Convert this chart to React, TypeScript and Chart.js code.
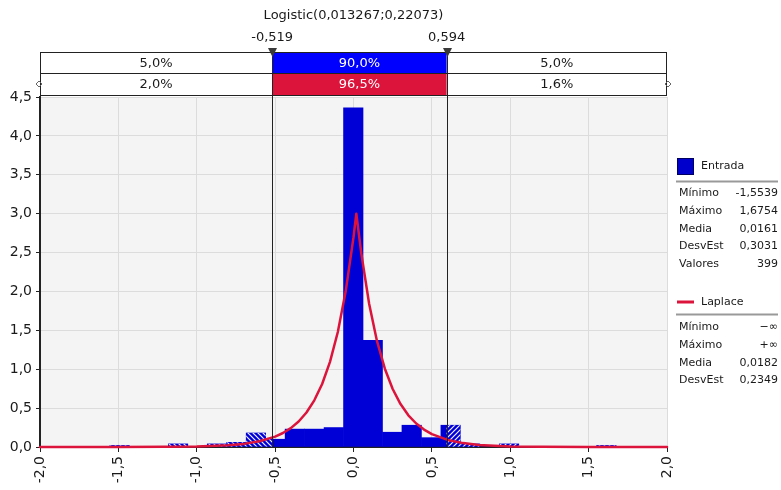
import React, { useEffect, useRef } from 'react';
import { Chart, registerables } from 'chart.js';

Chart.register(...registerables);

// ---------- data ----------
const fitTitle = 'Logistic(0,013267;0,22073)';
const cutoffs = [-0.519, 0.594];
const cutoffLabels = ['-0,519', '0,594'];
const fitPercents = ['5,0%', '90,0%', '5,0%'];
const inputPercents = ['2,0%', '96,5%', '1,6%'];

// histogram bin centres and densities (series "Entrada")
const binCenters = [
  -1.4918, -1.3676, -1.2434, -1.1192, -0.995, -0.8708, -0.7466, -0.6224, -0.4982,
  -0.374, -0.2498, -0.1256, -0.0014, 0.1228, 0.247, 0.3712, 0.4954, 0.6196,
  0.7438, 0.868, 0.9922, 1.1164, 1.2406, 1.3648, 1.489, 1.6132,
];
const binDensities = [
  0.02, 0, 0, 0.04, 0, 0.04, 0.06, 0.18, 0.1,
  0.23, 0.23, 0.25, 4.36, 1.37, 0.19, 0.28, 0.12, 0.28,
  0.04, 0, 0.04, 0, 0, 0, 0, 0.02,
];

// fitted curve (series "Laplace")
const curveX = [
  -2.0, -1.5, -1.2, -1.0, -0.8, -0.7, -0.6, -0.5, -0.45, -0.4, -0.35, -0.3, -0.25, -0.2,
  -0.15, -0.1, -0.05, 0.0, 0.018, 0.05, 0.1, 0.15, 0.2, 0.25, 0.3, 0.35, 0.4, 0.45,
  0.5, 0.6, 0.7, 0.8, 1.0, 1.2, 1.5, 2.0,
];
const curveY = [
  0.0, 0.0003, 0.002, 0.0066, 0.022, 0.04, 0.073, 0.133, 0.18, 0.243, 0.328, 0.444, 0.6, 0.81,
  1.095, 1.479, 1.998, 2.697, 3.0, 2.485, 1.839, 1.361, 1.007, 0.746, 0.552, 0.408, 0.302, 0.224,
  0.166, 0.091, 0.05, 0.027, 0.008, 0.0025, 0.0004, 0.0,
];

const xTickValues = [-2, -1.5, -1, -0.5, 0, 0.5, 1, 1.5, 2];
const xTickLabels = ['-2,0', '-1,5', '-1,0', '-0,5', '0,0', '0,5', '1,0', '1,5', '2,0'];
const yTickValues = [0, 0.5, 1, 1.5, 2, 2.5, 3, 3.5, 4, 4.5];
const yTickLabels = ['0,0', '0,5', '1,0', '1,5', '2,0', '2,5', '3,0', '3,5', '4,0', '4,5'];

const inputName = 'Entrada';
const inputStatLabels = ['Mínimo', 'Máximo', 'Media', 'DesvEst', 'Valores'];
const inputStatValues = ['-1,5539', '1,6754', '0,0161', '0,3031', '399'];
const fitName = 'Laplace';
const fitStatLabels = ['Mínimo', 'Máximo', 'Media', 'DesvEst'];
const fitStatValues = ['−∞', '+∞', '0,0182', '0,2349'];

// ---------- styles ----------
const FONT = '"DejaVu Sans", Verdana, sans-serif';
const BLUE = '#0000D6';
const RED = '#DC143C';
const TEXT = '#1a1a1a';

function makeHatch(ctx: CanvasRenderingContext2D, back: boolean) {
  const c = document.createElement('canvas');
  c.width = 5;
  c.height = 5;
  const g = c.getContext('2d')!;
  g.strokeStyle = 'rgba(255,255,255,0.95)';
  g.lineWidth = 1.2;
  g.beginPath();
  if (back) {
    g.moveTo(0, 0); g.lineTo(5, 5);
    g.moveTo(-1, 4); g.lineTo(1, 6);
    g.moveTo(4, -1); g.lineTo(6, 1);
  } else {
    g.moveTo(0, 5); g.lineTo(5, 0);
    g.moveTo(-1, 1); g.lineTo(1, -1);
    g.moveTo(4, 6); g.lineTo(6, 4);
  }
  g.stroke();
  return ctx.createPattern(c, 'repeat')!;
}

const overlayPlugin = {
  id: 'overlay',
  beforeDraw(chart: any) {
    const { ctx, chartArea: a } = chart;
    ctx.save();
    ctx.fillStyle = '#F4F4F4';
    ctx.fillRect(a.left, a.top, a.right - a.left, a.bottom - a.top);
    ctx.restore();
  },
  afterDatasetDraw(chart: any, args: any) {
    if (args.index !== 1) return;
    const { ctx, chartArea: a } = chart;
    const xs = chart.scales.x;
    const xL = xs.getPixelForValue(cutoffs[0]);
    const xR = xs.getPixelForValue(cutoffs[1]);
    const meta = chart.getDatasetMeta(1);
    const regions: [number, number, boolean][] = [
      [a.left, xL, true],
      [xR, a.right, false],
    ];
    for (const [x0, x1, back] of regions) {
      ctx.save();
      ctx.beginPath();
      ctx.rect(x0, a.top, x1 - x0, a.bottom - a.top);
      ctx.clip();
      ctx.fillStyle = makeHatch(ctx, back);
      for (const el of meta.data) {
        const p = el.getProps(['x', 'y', 'base', 'width'], true);
        const h = p.base - p.y;
        if (h <= 0.5) continue;
        ctx.fillRect(p.x - p.width / 2, p.y, p.width, h);
      }
      ctx.restore();
    }
  },
  afterDraw(chart: any) {
    const { ctx, chartArea: a } = chart;
    const xs = chart.scales.x;
    const L = a.left;
    const R = a.right;
    const xL = xs.getPixelForValue(cutoffs[0]);
    const xR = xs.getPixelForValue(cutoffs[1]);
    ctx.save();

    // title
    ctx.fillStyle = TEXT;
    ctx.font = `13px ${FONT}`;
    ctx.textAlign = 'center';
    ctx.textBaseline = 'middle';
    ctx.fillText(fitTitle, (L + R) / 2, 16);
    ctx.fillText(cutoffLabels[0], xL, 38);
    ctx.fillText(cutoffLabels[1], xR, 38);

    // header rows
    const r1 = 52, r2 = 73, r3 = 95;
    ctx.fillStyle = '#FFFFFF';
    ctx.fillRect(L, r1, R - L, r3 - r1);
    ctx.fillStyle = '#0000FF';
    ctx.fillRect(xL, r1, xR - xL, r2 - r1);
    ctx.fillStyle = RED;
    ctx.fillRect(xL, r2, xR - xL, r3 - r2);
    ctx.strokeStyle = '#222';
    ctx.lineWidth = 1;
    ctx.strokeRect(L + 0.5, r1 + 0.5, R - L - 1, r2 - r1);
    ctx.strokeRect(L + 0.5, r2 + 0.5, R - L - 1, r3 - r2);

    const cols = [(L + xL) / 2, (xL + xR) / 2, (xR + R) / 2];
    ctx.font = `13px ${FONT}`;
    for (let i = 0; i < 3; i++) {
      ctx.fillStyle = i === 1 ? '#FFFFFF' : TEXT;
      ctx.fillText(fitPercents[i], cols[i], (r1 + r2) / 2 + 1);
      ctx.fillText(inputPercents[i], cols[i], (r2 + r3) / 2 + 1);
    }

    // diamonds at row ends
    ctx.strokeStyle = '#666';
    ctx.lineWidth = 1;
    for (const dx of [L - 1, R + 1]) {
      ctx.beginPath();
      ctx.moveTo(dx - 3, 84); ctx.lineTo(dx, 81); ctx.lineTo(dx + 3, 84); ctx.lineTo(dx, 87); ctx.closePath();
      ctx.stroke();
    }

    // cutoff lines
    ctx.strokeStyle = '#222';
    ctx.lineWidth = 1;
    for (const x of [xL, xR]) {
      const px = Math.round(x) + 0.5;
      ctx.beginPath();
      ctx.moveTo(px, r1);
      ctx.lineTo(px, a.bottom);
      ctx.stroke();
      ctx.fillStyle = '#3a3a3a';
      ctx.beginPath();
      ctx.moveTo(px - 4.5, 48);
      ctx.lineTo(px + 4.5, 48);
      ctx.lineTo(px, 57);
      ctx.closePath();
      ctx.fill();
    }

    // legend
    const lx = 677, rx = 778;
    ctx.font = `11px ${FONT}`;
    ctx.textBaseline = 'middle';
    ctx.fillStyle = '#0000CC';
    ctx.fillRect(lx, 158, 17, 17);
    ctx.strokeStyle = '#000060';
    ctx.strokeRect(lx + 0.5, 158.5, 16, 16);
    ctx.fillStyle = TEXT;
    ctx.textAlign = 'left';
    ctx.fillText(inputName, 701, 166);
    ctx.strokeStyle = '#999';
    ctx.lineWidth = 2;
    ctx.beginPath(); ctx.moveTo(676, 181.5); ctx.lineTo(rx, 181.5); ctx.stroke();
    const rowsA = [193, 211, 229, 246.5, 264];
    inputStatLabels.forEach((t, i) => {
      ctx.textAlign = 'left';
      ctx.fillText(t, 679, rowsA[i]);
      ctx.textAlign = 'right';
      ctx.fillText(inputStatValues[i], rx, rowsA[i]);
    });

    ctx.strokeStyle = RED;
    ctx.lineWidth = 3;
    ctx.beginPath(); ctx.moveTo(lx, 302); ctx.lineTo(lx + 17, 302); ctx.stroke();
    ctx.textAlign = 'left';
    ctx.fillText(fitName, 701, 302);
    ctx.strokeStyle = '#999';
    ctx.lineWidth = 2;
    ctx.beginPath(); ctx.moveTo(676, 314.5); ctx.lineTo(rx, 314.5); ctx.stroke();
    const rowsB = [327, 345, 363, 380.5];
    fitStatLabels.forEach((t, i) => {
      ctx.textAlign = 'left';
      ctx.fillText(t, 679, rowsB[i]);
      ctx.textAlign = 'right';
      ctx.fillText(fitStatValues[i], rx, rowsB[i]);
    });

    ctx.restore();
  },
};

export default function App() {
  const ref = useRef<HTMLCanvasElement>(null);

  useEffect(() => {
    if (!ref.current) return;
    const chart = new Chart(ref.current, {
      type: 'bar',
      data: {
        datasets: [
          {
            type: 'line',
            label: fitName,
            data: curveX.map((x, i) => ({ x, y: curveY[i] })),
            borderColor: RED,
            borderWidth: 2.5,
            borderJoinStyle: 'round',
            borderCapStyle: 'round',
            pointRadius: 0,
            tension: 0,
            fill: false,
            clip: false,
            order: 0,
          } as any,
          {
            type: 'bar',
            label: inputName,
            data: binCenters.map((x, i) => ({ x, y: binDensities[i] })),
            backgroundColor: BLUE,
            borderWidth: 0,
            barPercentage: 1,
            categoryPercentage: 1,
            order: 1,
          } as any,
        ],
      },
      options: {
        responsive: false,
        animation: false,
        events: [],
        layout: { padding: { top: 97, right: 114, left: 0, bottom: 0 } },
        plugins: {
          legend: { display: false },
          tooltip: { enabled: false },
          title: { display: false },
        },
        scales: {
          x: {
            type: 'linear',
            min: -2,
            max: 2,
            offset: false,
            grid: { offset: false, color: '#DCDCDC', lineWidth: 1, tickLength: 5, tickColor: '#222' },
            border: { color: '#222', width: 2 },
            afterBuildTicks: (s: any) => { s.ticks = xTickValues.map((v) => ({ value: v })); },
            ticks: {
              autoSkip: false,
              minRotation: 90,
              maxRotation: 90,
              padding: 4,
              color: TEXT,
              font: { family: FONT, size: 14 },
              callback: (_v: any, i: number) => xTickLabels[i],
            },
            afterFit: (s: any) => { s.height = 43; },
          },
          y: {
            min: 0,
            max: 4.5,
            grid: { color: '#DCDCDC', lineWidth: 1, tickLength: 4, tickColor: '#222' },
            border: { color: '#222', width: 2 },
            afterBuildTicks: (s: any) => { s.ticks = yTickValues.map((v) => ({ value: v })); },
            ticks: {
              padding: 4,
              color: TEXT,
              font: { family: FONT, size: 14 },
              callback: (_v: any, i: number) => yTickLabels[i],
            },
            afterFit: (s: any) => { s.width = 40; },
          },
        },
      } as any,
      plugins: [overlayPlugin],
    });
    return () => chart.destroy();
  }, []);

  return (
    <div style={{ position: 'absolute', left: 0, top: 0, width: 781, height: 490, background: '#fff' }}>
      <canvas ref={ref} width={781} height={490} style={{ display: 'block' }} />
    </div>
  );
}
